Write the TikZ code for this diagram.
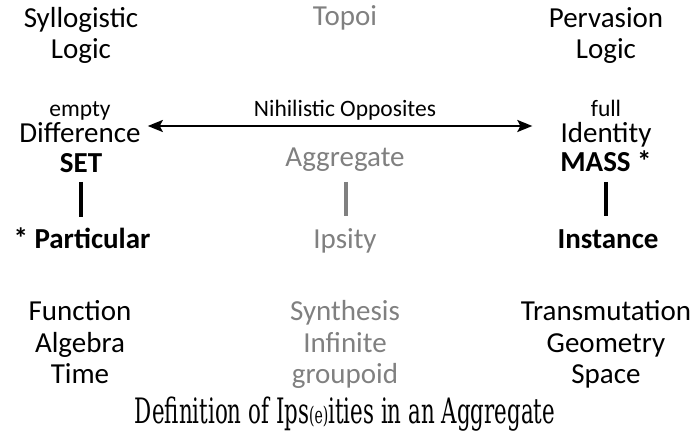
\documentclass[tikz,border=0pt]{standalone}
\usepackage{fontspec}
\setmainfont{Carlito}
\newfontfamily\capfont{DejaVu Serif}
\usetikzlibrary{arrows.meta,calc}
\definecolor{lightgray}{RGB}{128,128,128}
\begin{document}
\begin{tikzpicture}[x=1pt,y=1pt,
  txt/.style={anchor=base,inner sep=0pt,font=\fontsize{29}{32}\selectfont},
  small/.style={anchor=base,inner sep=0pt,font=\fontsize{23.5}{26}\selectfont},
  bld/.style={txt,font=\fontsize{29}{32}\selectfont\bfseries},
  gry/.style={txt,text=lightgray},
  bar/.style={line width=4pt},
  arr/.style={line width=2pt,{Stealth[length=15pt,width=12pt,inset=3pt]}-{Stealth[length=15pt,width=12pt,inset=3pt]}}]
\useasboundingbox (0,0) rectangle (697,-433);
% left column
\node[txt] (syl) at (81,-28) {Syllogistic};
\node[txt] (logl) at (81,-59) {Logic};
\node[small] (empty) at (80,-117) {empty};
\node[txt] (diff) at (80,-143) {Difference};
\node[bld] (set) at (81,-173) {SET};
\node[bld] (part) at (82,-249) {* Particular};
\node[txt] (func) at (80,-320) {Function};
\node[txt] (alg) at (80,-352) {Algebra};
\node[txt] (time) at (80,-383) {Time};
% middle column
\node[gry] (topoi) at (345,-26) {Topoi};
\node[small] (nih) at (345,-117) {Nihilistic Opposites};
\node[gry] (aggr) at (345,-167) {Aggregate};
\node[gry] (ips) at (345,-248) {Ipsity};
\node[gry] (syn) at (345,-320) {Synthesis};
\node[gry] (inf) at (345,-352) {Infinite};
\node[gry] (grp) at (345,-383) {groupoid};
% right column
\node[txt] (perv) at (606,-28) {Pervasion};
\node[txt] (logr) at (606,-59) {Logic};
\node[small] (full) at (606,-117) {full};
\node[txt] (ident) at (606,-143) {Identity};
\node[bld] (mass) at (606,-172) {MASS *};
\node[bld] (inst) at (608,-248) {Instance};
\node[txt] (trans) at (606,-320) {Transmutation};
\node[txt] (geom) at (606,-352) {Geometry};
\node[txt] (space) at (606,-383) {Space};
% caption
\node[anchor=base,inner sep=0pt] (cap) at (345,-423) {\resizebox{420pt}{\height}{\capfont\fontsize{35}{38}\selectfont Definition of Ips{\fontsize{23}{25}\selectfont(e)}ities in an Aggregate}};
% connectors
\draw[arr] ($(diff.base east)+(7,17)$) -- ($(ident.base west)+(-28,17)$);
\draw[bar] ($(set.base)+(0,-9)$) -- ($(set.base |- part.base)+(0,32)$);
\draw[bar,lightgray] ($(aggr.base)+(1,-15)$) -- ($(aggr.base |- ips.base)+(1,32)$);
\draw[bar] ($(mass.base)+(0,-10)$) -- ($(mass.base |- inst.base)+(0,32)$);
\end{tikzpicture}
\end{document}
